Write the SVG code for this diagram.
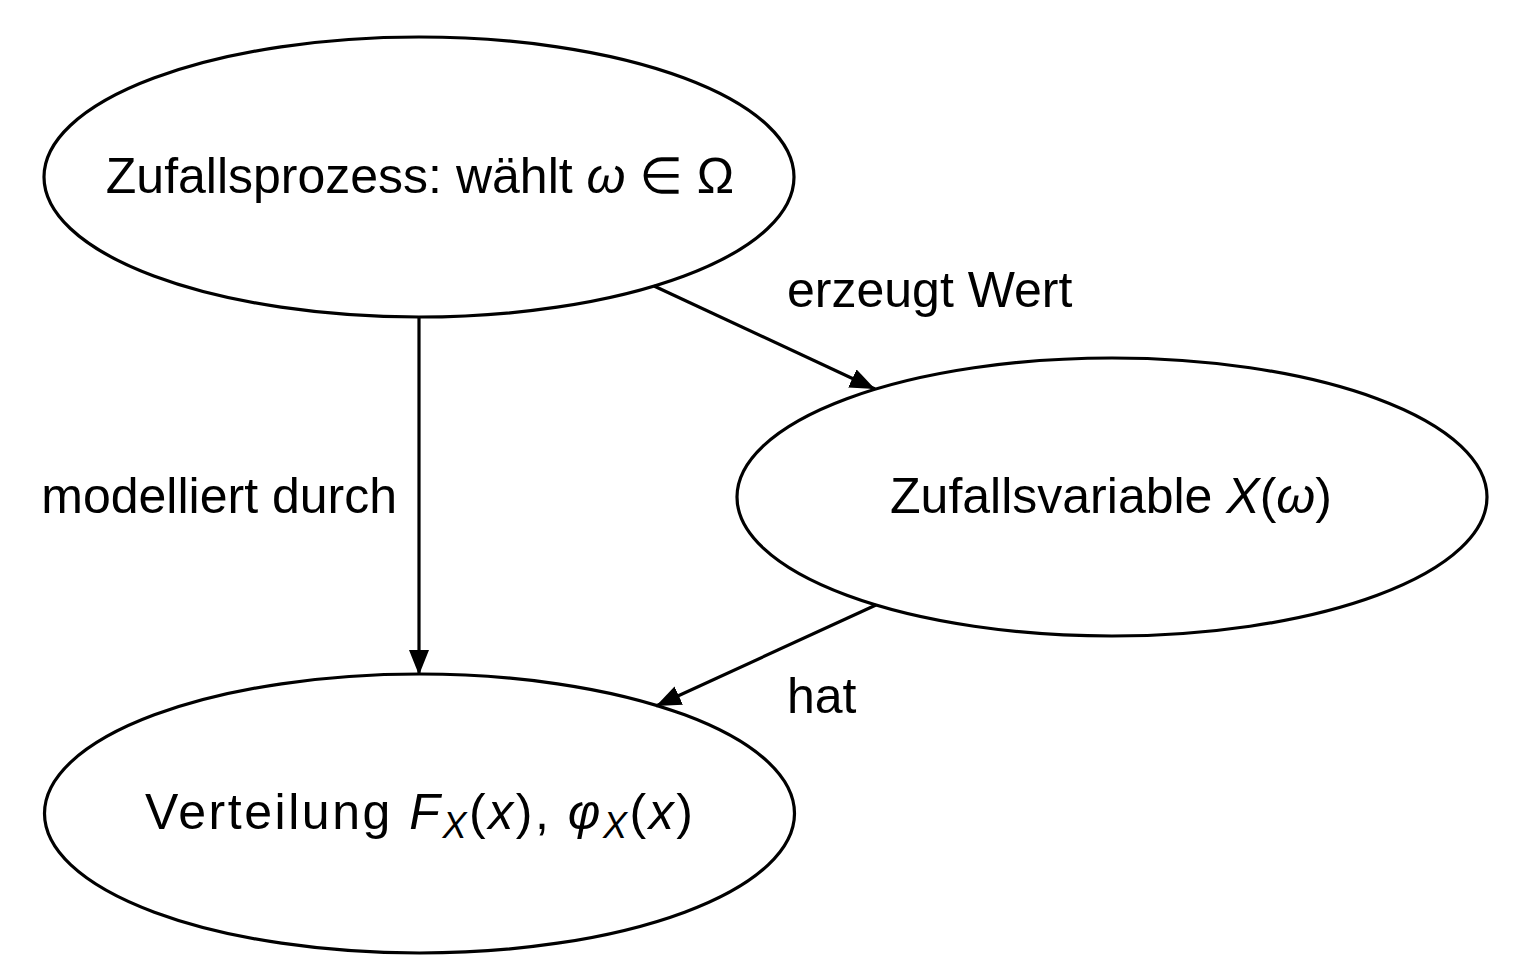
<svg xmlns="http://www.w3.org/2000/svg" width="1515" height="978" viewBox="0 0 1515 978">
<style>
text{font-family:"Liberation Sans","DejaVu Sans",sans-serif;font-size:50px;fill:#000}
.m{font-style:italic}
.node{fill:none;stroke:#000;stroke-width:3.2}
.edge{stroke:#000;stroke-width:3.2;fill:none}
.sub{font-size:36px;font-style:italic}
</style>
<defs>
<marker id="ah" markerUnits="userSpaceOnUse" markerWidth="26" markerHeight="20" viewBox="0 0 26 20" refX="25" refY="10" orient="auto">
<path d="M0,0 L25,10 L0,20 Z" fill="#000"/>
</marker>
</defs>
<rect width="1515" height="978" fill="#fff"/>
<g id="edges">
<line class="edge" x1="419" y1="317" x2="419" y2="675" marker-end="url(#ah)"/>
<line class="edge" x1="654" y1="286" x2="875" y2="389" marker-end="url(#ah)"/>
<line class="edge" x1="876" y1="605" x2="656" y2="706" marker-end="url(#ah)"/>
<text x="397" y="513" text-anchor="end">modelliert durch</text>
<text x="787" y="307">erzeugt Wert</text>
<text x="787" y="713">hat</text>
</g>
<g id="prozess">
<ellipse class="node" cx="419" cy="177" rx="375" ry="140"/>
<text x="420" y="193" text-anchor="middle">Zufallsprozess:  wählt <tspan class="m">ω</tspan> ∈ Ω</text>
</g>
<g id="variable">
<ellipse class="node" cx="1112" cy="497" rx="375" ry="139"/>
<text x="1111" y="513" text-anchor="middle">Zufallsvariable <tspan class="m">X</tspan>(<tspan class="m">ω</tspan>)</text>
</g>
<g id="verteilung">
<ellipse class="node" cx="419.5" cy="813.5" rx="375" ry="139.5"/>
<text x="419" y="829" text-anchor="middle" textLength="548" lengthAdjust="spacing">Verteilung <tspan class="m">F</tspan><tspan class="sub" dy="9">X</tspan><tspan dy="-9">(</tspan><tspan class="m">x</tspan>), <tspan class="m">φ</tspan><tspan class="sub" dy="9">X</tspan><tspan dy="-9">(</tspan><tspan class="m">x</tspan>)</text>
</g>
</svg>
